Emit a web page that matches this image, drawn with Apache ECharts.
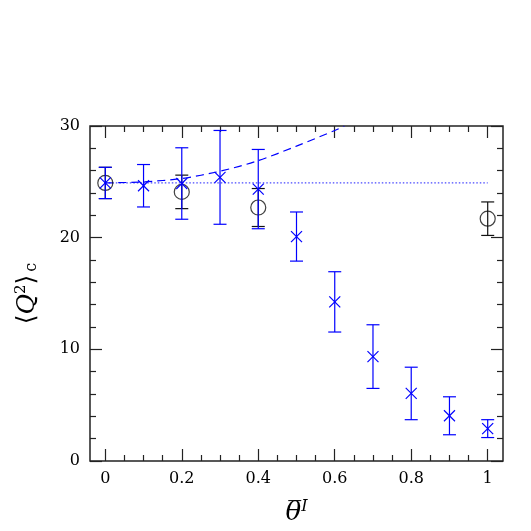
<!DOCTYPE html>
<html><head><meta charset="utf-8">
<script src="https://cdn.jsdelivr.net/npm/echarts@6/dist/echarts.min.js"></script>
<style>html,body{margin:0;padding:0;background:#fff}#c{width:531px;height:531px}</style>
</head><body><div id="c"></div>
<script>
// ---- data ----
const crossX = [0, 0.1, 0.2, 0.3, 0.4, 0.5, 0.6, 0.7, 0.8, 0.9, 1.0];
const crossY = [24.9, 24.65, 24.85, 25.4, 24.35, 20.1, 14.25, 9.35, 6.05, 4.05, 2.9];
const crossErr = [1.4, 1.9, 3.2, 4.2, 3.55, 2.2, 2.7, 2.85, 2.35, 1.7, 0.8];

const circX = [0, 0.2, 0.4, 1.0];
const circY = [24.9, 24.1, 22.7, 21.7];
const circErr = [1.4, 1.5, 1.7, 1.5];

const dotX = [0, 1.0];
const dotY = [24.9, 24.9];

const dashX = [0, 0.1, 0.2, 0.3, 0.4, 0.5, 0.6, 0.625];
const dashY = [24.9, 25.0, 25.3, 25.95, 26.9, 28.2, 29.6, 30.0];

const xMajor = [0, 0.2, 0.4, 0.6, 0.8, 1.0];
const xMinor = [0.05, 0.1, 0.15, 0.25, 0.3, 0.35, 0.45, 0.5, 0.55, 0.65, 0.7, 0.75, 0.85, 0.9, 0.95];
const xLabels = ['0', '0.2', '0.4', '0.6', '0.8', '1'];

// ---- build ----
const BLUE = '#0000ff', BLACK = '#111', FRAME = '#222';
const FONT = 'DejaVu Serif';

const crossData = crossX.map((x, i) => [x, crossY[i], crossErr[i]]);
const circData = circX.map((x, i) => [x, circY[i], circErr[i]]);

function errRender(color, withCross) {
  return function (params, api) {
    const x = api.value(0), y = api.value(1), e = api.value(2);
    const t = api.coord([x, y + e]), b = api.coord([x, y - e]), c = api.coord([x, y]);
    const cap = 6.5, s = { stroke: color, lineWidth: 1.2 };
    const ch = [
      { type: 'line', shape: { x1: t[0], y1: t[1], x2: b[0], y2: b[1] }, style: s },
      { type: 'line', shape: { x1: t[0] - cap, y1: t[1], x2: t[0] + cap, y2: t[1] }, style: s },
      { type: 'line', shape: { x1: b[0] - cap, y1: b[1], x2: b[0] + cap, y2: b[1] }, style: s }
    ];
    if (withCross) {
      const r = 5.5;
      ch.push({ type: 'line', shape: { x1: c[0] - r, y1: c[1] - r, x2: c[0] + r, y2: c[1] + r }, style: s });
      ch.push({ type: 'line', shape: { x1: c[0] - r, y1: c[1] + r, x2: c[0] + r, y2: c[1] - r }, style: s });
    }
    return { type: 'group', children: ch };
  };
}

const xBase = { type: 'value', min: -0.04, max: 1.04, splitLine: { show: false }, axisLine: { show: false, onZero: false } };
function xAx(pos, vals, len, labels) {
  return Object.assign({}, xBase, {
    position: pos,
    axisTick: { show: true, inside: true, length: len, customValues: vals, lineStyle: { color: FRAME, width: 1.2 } },
    axisLabel: labels ? {
      show: true, customValues: xMajor, margin: 10, color: '#000', fontFamily: FONT, fontSize: 16,
      formatter: v => xLabels[xMajor.findIndex(m => Math.abs(m - v) < 1e-6)]
    } : { show: false }
  });
}
function yAx(pos, labels) {
  return {
    type: 'value', min: 0, max: 30, interval: 10, position: pos,
    splitLine: { show: false }, axisLine: { show: false, onZero: false },
    axisTick: { show: true, inside: true, length: 12, lineStyle: { color: FRAME, width: 1.2 } },
    minorTick: { show: true, splitNumber: 5, length: 6, lineStyle: { color: FRAME, width: 1.2 } },
    axisLabel: labels ? { show: true, margin: 10, color: '#000', fontFamily: FONT, fontSize: 16 } : { show: false }
  };
}

const xAxes = [xAx('bottom', xMajor, 12, true), xAx('bottom', xMinor, 6, false), xAx('top', xMajor, 12, false), xAx('top', xMinor, 6, false)];
xAxes[0].name = '{t|θ\u0305}{s|I}';
xAxes[0].nameLocation = 'middle';
xAxes[0].nameGap = 38;
xAxes[0].nameTextStyle = {
  rich: {
    t: { fontFamily: FONT, fontStyle: 'italic', fontSize: 26, color: '#000' },
    s: { fontFamily: FONT, fontStyle: 'italic', fontSize: 16, color: '#000', verticalAlign: 'top', padding: [0, 0, 12, 0] }
  }
};

const yAxes = [yAx('left', true), yAx('right', false)];
yAxes[0].name = '{a|⟨}{q|Q}{s|2}{a|⟩}{c|c}';
yAxes[0].nameLocation = 'middle';
yAxes[0].nameGap = 50;
yAxes[0].nameRotate = 90;
yAxes[0].nameTextStyle = {
  rich: {
    a: { fontFamily: FONT, fontSize: 25, color: '#000' },
    q: { fontFamily: FONT, fontStyle: 'italic', fontSize: 25, color: '#000' },
    s: { fontFamily: FONT, fontSize: 15, color: '#000', verticalAlign: 'top', padding: [0, 0, 11, 0] },
    c: { fontFamily: FONT, fontSize: 16, color: '#000', verticalAlign: 'bottom', padding: [9, 0, 0, 3] }
  }
};

const chart = echarts.init(document.getElementById('c'), null, { renderer: 'canvas' });
chart.setOption({
  animation: false,
  backgroundColor: '#fff',
  grid: { left: 90, right: 28, top: 126, bottom: 65, show: true, borderColor: FRAME, borderWidth: 1.5, backgroundColor: 'transparent' },
  xAxis: xAxes,
  yAxis: yAxes,
  series: [
    {
      type: 'line', data: dotX.map((x, i) => [x, dotY[i]]), showSymbol: false, symbol: 'none',
      lineStyle: { color: '#4848ff', width: 1.2, type: [1.5, 2] }, z: 2
    },
    {
      type: 'line', data: dashX.map((x, i) => [x, dashY[i]]), showSymbol: false, symbol: 'none', smooth: 0.3,
      lineStyle: { color: BLUE, width: 1.2, type: [8, 5] }, clip: true, z: 2
    },
    { type: 'custom', data: circData, renderItem: errRender(BLACK, false), encode: { x: 0, y: 1 }, z: 3, clip: true },
    {
      type: 'scatter', data: circData.map(d => [d[0], d[1]]), symbol: 'circle', symbolSize: 15,
      itemStyle: { color: 'transparent', borderColor: BLACK, borderWidth: 1.2 }, z: 4
    },
    { type: 'custom', data: crossData, renderItem: errRender(BLUE, true), encode: { x: 0, y: 1 }, z: 5, clip: true }
  ]
});
</script>
</body></html>
